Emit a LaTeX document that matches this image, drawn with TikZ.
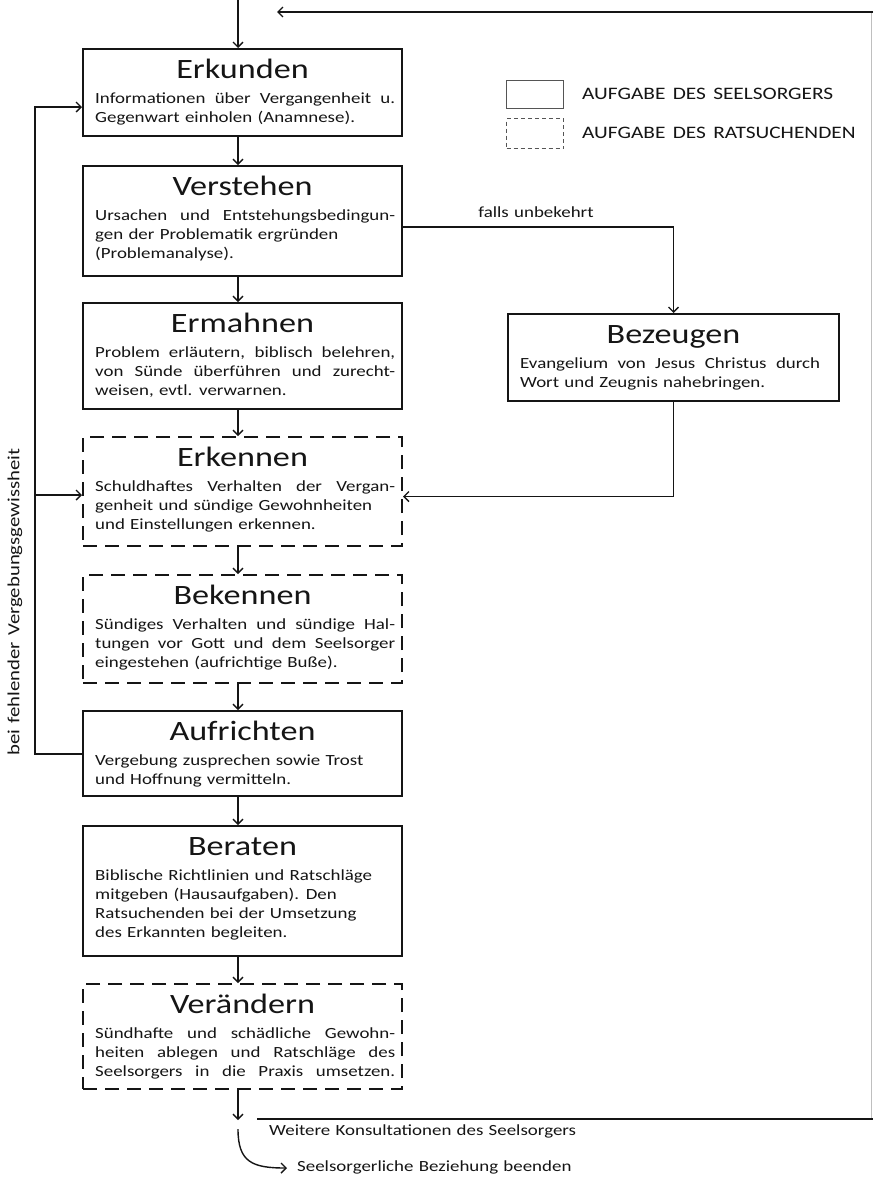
\documentclass[tikz,border=0pt]{standalone}
\usepackage{fontspec}
\setmainfont{Carlito}[FakeStretch=1.22]
\usetikzlibrary{arrows.meta}
\definecolor{ink}{HTML}{151515}
\definecolor{legend}{HTML}{555555}
\newcommand\bodyfont{\fontsize{15.5}{19.2}\selectfont\spaceskip=0.34em plus 1em minus 0.05em\relax}
\newcommand\titlefont{\fontsize{28}{30}\selectfont}
\newcommand\smallfont{\fontsize{15.5}{18}\selectfont\spaceskip=0.34em plus 0.2em\relax}
\newcommand\sidefont{\fontsize{17}{20}\selectfont\spaceskip=0.36em plus 0.2em\relax}
\newcommand\legfont{\fontsize{17.5}{20}\selectfont\spaceskip=0.42em plus 0.2em\relax}
\newcommand\jl[1]{\makebox[300pt][s]{#1}}
\newcommand\stage[7]{%
  \node[#2, minimum height=#5pt, anchor=north] (#1) at (#3,#4) {};
  \node[ttl] (#1t) at ([yshift=-30pt]#1.north) {#6};
  \node[body] (#1b) at ([xshift=13pt,yshift=-43pt]#1.north west) {\rule{0pt}{12pt}#7};
}
\begin{document}
\begin{tikzpicture}[x=1pt,y=-1pt, color=ink,
  box/.style={draw, line width=2pt, minimum width=319pt, inner sep=0},
  dbox/.style={box, dash pattern=on 14pt off 8pt},
  ttl/.style={anchor=base, font=\titlefont, inner sep=0},
  body/.style={anchor=north west, align=left, inner sep=0, font=\bodyfont},
  conn/.style={line width=1.4pt, -{Straight Barb[length=5pt,width=10pt,line width=1.4pt]}},
  plain/.style={line width=1.4pt},
  lbl/.style={font=\smallfont, inner sep=0},
]
\fill[white] (0,0) rectangle (873,1178);
\useasboundingbox (0,0) rectangle (873,1178);

% main column
\stage{erk}{box}{242.5}{48}{87}{Erkunden}{\jl{Informationen über Vergangenheit u.}\\Gegenwart einholen (Anamnese).}
\stage{vst}{box}{242.5}{165}{110}{Verstehen}{\jl{Ursachen und Entstehungsbedingun-}\\gen der Problematik ergründen\\(Problemanalyse).}
\stage{erm}{box}{242.5}{302}{106}{Ermahnen}{\jl{Problem erläutern, biblisch belehren,}\\\jl{von Sünde überführen und zurecht-}\\weisen, evtl. verwarnen.}
\stage{ekn}{dbox}{242.5}{436}{109}{Erkennen}{\jl{Schuldhaftes Verhalten der Vergan-}\\genheit und sündige Gewohnheiten\\und Einstellungen erkennen.}
\stage{bek}{dbox}{242.5}{574}{108}{Bekennen}{\jl{Sündiges Verhalten und sündige Hal-}\\\jl{tungen vor Gott und dem Seelsorger}\\eingestehen (aufrichtige Buße).}
\stage{auf}{box}{242.5}{710}{85}{Aufrichten}{Vergebung zusprechen sowie Trost\\und Hoffnung vermitteln.}
\stage{ber}{box}{242.5}{825}{130}{Beraten}{Biblische Richtlinien und Ratschläge\\mitgeben (Hausaufgaben). Den\\Ratsuchenden bei der Umsetzung\\des Erkannten begleiten.}
\stage{vae}{dbox}{242.5}{983}{105}{Verändern}{\jl{Sündhafte und schädliche Gewohn-}\\\jl{heiten ablegen und Ratschläge des}\\\jl{Seelsorgers in die Praxis umsetzen.}}
% side box
\stage{bez}{box, minimum width=331pt}{673.5}{313}{87}{Bezeugen}{\jl{Evangelium von Jesus Christus durch}\\Wort und Zeugnis nahebringen.}

% legend
\node[draw=legend, line width=1.2pt, minimum width=57pt, minimum height=28pt, anchor=north west, inner sep=0] (lg1) at (506,80) {};
\node[draw=legend, line width=1.2pt, dash pattern=on 4pt off 3pt, minimum width=57pt, minimum height=30pt, anchor=north west, inner sep=0] (lg2) at (506,118) {};
\node[anchor=west, font=\legfont, inner sep=0] (lgt1) at (582,94) {AUFGABE DES SEELSORGERS};
\node[anchor=west, font=\legfont, inner sep=0] (lgt2) at (582,133) {AUFGABE DES RATSUCHENDEN};

% vertical flow
\coordinate (topin) at (238,0);
\draw[conn] (topin) -- (topin |- erk.north);
\foreach \a/\b in {erk/vst, vst/erm, erm/ekn, ekn/bek, bek/auf, auf/ber, ber/vae}{
  \draw[conn] ([xshift=-4.5pt]\a.south) -- ([xshift=-4.5pt]\b.north);
}
% top return line
\coordinate (tr) at (873,12);
\coordinate (tl) at (277,12);
\coordinate (br) at (873,1119);
\coordinate (bl) at (257,1119);
\draw[line width=0.6pt, black!25] (871,12) -- (871,1119);
\draw[conn] (tr) -- (tl);
\draw[plain] (bl) -- (br);
\coordinate (outend) at (238,1120);
\draw[conn] ([xshift=-4.5pt]vae.south) -- (outend);
\coordinate (c0) at (238,1129);
\coordinate (c1) at (287,1168);
\draw[conn] (c0) .. controls (238,1162) and (252,1168) .. (c1);
\node[lbl, anchor=west] (wk) at (269,1131) {Weitere Konsultationen des Seelsorgers};
\node[lbl, anchor=west] (sb) at (297,1167) {Seelsorgerliche Beziehung beenden};

% falls unbekehrt
\draw[conn] ([yshift=-6pt]vst.east) -| (bez.north);
\node[lbl] (fu) at (536,212) {falls unbekehrt};
\draw[conn] (bez.south) |- ([yshift=-5pt]ekn.east);

% left loop
\coordinate (lt) at (35,107);
\coordinate (lm) at (35,495);
\draw[conn] ([yshift=-0.5pt]auf.west) -| (lt) -- (lt -| erk.west);
\draw[conn] (lm) -- (lm -| ekn.west);
\node[font=\sidefont, inner sep=0, rotate=90] (fv) at (15,602) {bei fehlender Vergebungsgewissheit};
\end{tikzpicture}
\end{document}
